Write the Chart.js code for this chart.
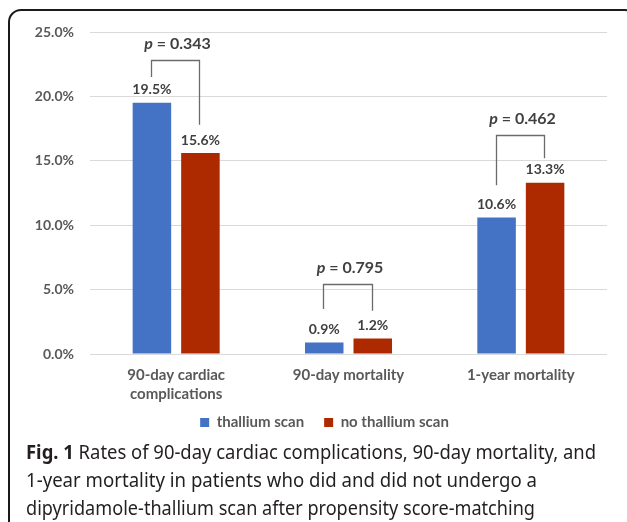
<!DOCTYPE html>
<html>
<head>
<meta charset="utf-8">
<script src="https://cdn.jsdelivr.net/npm/chart.js@4.4.1/dist/chart.umd.min.js"></script>
<style>
  html, body { margin: 0; padding: 0; background: #fff; }
  body { width: 627px; height: 522px; position: relative; overflow: hidden; }
  #frame {
    position: absolute; left: 8px; top: 9px; width: 630px; height: 540px;
    border: 2px solid #1a1a1a; border-radius: 13px; box-sizing: border-box;
  }
  #chartBox { position: absolute; left: 0; top: 0; width: 627px; height: 455px; }
  .cap {
    position: absolute; left: 26px; font-family: "Noto Sans", sans-serif;
    font-size: 20px; color: #231f20; white-space: nowrap; transform-origin: 0 50%;
    line-height: 28px;
  }
  .cap b { font-weight: bold; }
</style>
</head>
<body>
<div id="frame"></div>
<div id="chartBox"><canvas id="chart"></canvas></div>
<div class="cap" id="cap1" style="top:438px"><b>Fig. 1</b> Rates of 90-day cardiac complications, 90-day mortality, and</div>
<div class="cap" id="cap2" style="top:466px">1-year mortality in patients who did and did not undergo a</div>
<div class="cap" id="cap3" style="top:494px">dipyridamole-thallium scan after propensity score-matching</div>
<script>
const categories = [['90-day cardiac', 'complications'], '90-day mortality', '1-year mortality'];
const thalliumScan = [19.5, 0.9, 10.6];
const noThalliumScan = [15.6, 1.2, 13.3];
const seriesNames = ['thallium scan', 'no thallium scan'];
const pValues = ['0.343', '0.795', '0.462'];
// bracket heights (in % units)
const bracketTop = [22.8, 5.4, 17.0];
const bracketLeftEnd = [21.5, 3.5, 13.1];
const bracketRightEnd = [17.8, 3.35, 15.2];
const yMin = 0, yMax = 25, yStep = 5;

const grey = '#595959';
const dark = '#404040';
const legendY = 424; // centre line of the legend row
const legendShiftX = 21;

// value labels above bars + p-value brackets
const annotations = {
  id: 'annotations',
  afterLayout(chart) {
    // pull the legend up closer to the axis labels (its padding also sets item spacing)
    const lg = chart.legend;
    const cur = lg.top + lg.options.labels.padding + 9;
    const d = cur - legendY;
    lg.top -= d;
    lg.bottom -= d;
    lg.left += legendShiftX;
    lg.right += legendShiftX;
  },
  afterDatasetsDraw(chart) {
    const ctx = chart.ctx;
    const y = chart.scales.y;
    ctx.save();
    ctx.fillStyle = dark;
    ctx.font = 'bold 14px Lato';
    ctx.textAlign = 'center';
    ctx.textBaseline = 'middle';
    chart.data.datasets.forEach((ds, di) => {
      chart.getDatasetMeta(di).data.forEach((bar, i) => {
        ctx.fillText(ds.data[i].toFixed(1) + '%', bar.x, bar.y - 13);
      });
    });

    const m0 = chart.getDatasetMeta(0).data;
    const m1 = chart.getDatasetMeta(1).data;
    ctx.strokeStyle = '#6b6b6b';
    ctx.lineWidth = 1.3;
    pValues.forEach((p, i) => {
      const xl = Math.round(m0[i].x - 1) + 0.5;
      const xr = Math.round(m1[i].x - 1) + 0.5;
      const yt = Math.round(y.getPixelForValue(bracketTop[i])) + 0.5;
      ctx.beginPath();
      ctx.moveTo(xl, y.getPixelForValue(bracketLeftEnd[i]));
      ctx.lineTo(xl, yt);
      ctx.lineTo(xr, yt);
      ctx.lineTo(xr, y.getPixelForValue(bracketRightEnd[i]));
      ctx.stroke();

      const cx = (xl + xr) / 2 + 2;
      const ty = yt - 17;
      ctx.font = 'italic bold 16px Lato';
      const pw = ctx.measureText('p').width;
      ctx.font = 'bold 16px Lato';
      const rest = ' = ' + p;
      const rw = ctx.measureText(rest).width;
      const x0 = cx - (pw + rw) / 2;
      ctx.textAlign = 'left';
      ctx.font = 'italic bold 16px Lato';
      ctx.fillText('p', x0, ty);
      ctx.font = 'bold 16px Lato';
      ctx.fillText(rest, x0 + pw, ty);
      ctx.textAlign = 'center';
    });
    ctx.restore();
  }
};

new Chart(document.getElementById('chart'), {
  type: 'bar',
  data: {
    labels: categories,
    datasets: [
      { label: seriesNames[0], data: thalliumScan, backgroundColor: '#4472C4' },
      { label: seriesNames[1], data: noThalliumScan, backgroundColor: '#AD2900' }
    ]
  },
  options: {
    responsive: true,
    maintainAspectRatio: false,
    animation: false,
    categoryPercentage: 0.563,
    barPercentage: 0.794,
    layout: { padding: { left: 0, right: 20, top: 32, bottom: 4 } },
    scales: {
      x: {
        grid: { display: false, drawTicks: false },
        border: { display: false },
        ticks: {
          color: grey, padding: 11, maxRotation: 0,
          font: { family: 'Lato', weight: 'bold', size: 15, lineHeight: 1.3 }
        },
        afterFit(scale) { scale.height = 52; }
      },
      y: {
        min: yMin, max: yMax,
        border: { display: false },
        grid: { color: '#d9d9d9', drawTicks: false },
        ticks: {
          stepSize: yStep, color: grey, padding: 16,
          font: { family: 'Lato', weight: 'bold', size: 14 },
          callback: v => v.toFixed(1) + '%'
        },
        afterFit(scale) { scale.width = 90; }
      }
    },
    plugins: {
      legend: {
        position: 'bottom',
        labels: {
          boxWidth: 9, boxHeight: 9, padding: 20, color: grey,
          font: { family: 'Lato', weight: 'bold', size: 15 }
        }
      },
      tooltip: { enabled: false }
    }
  },
  plugins: [annotations]
});

// squeeze caption lines to the widths of the printed figure
const capWidths = { cap1: 570, cap2: 511, cap3: 509 };
Object.keys(capWidths).forEach(id => {
  const el = document.getElementById(id);
  const w = el.getBoundingClientRect().width;
  el.style.transform = 'scaleX(' + (capWidths[id] / w) + ')';
});
</script>
</body>
</html>
